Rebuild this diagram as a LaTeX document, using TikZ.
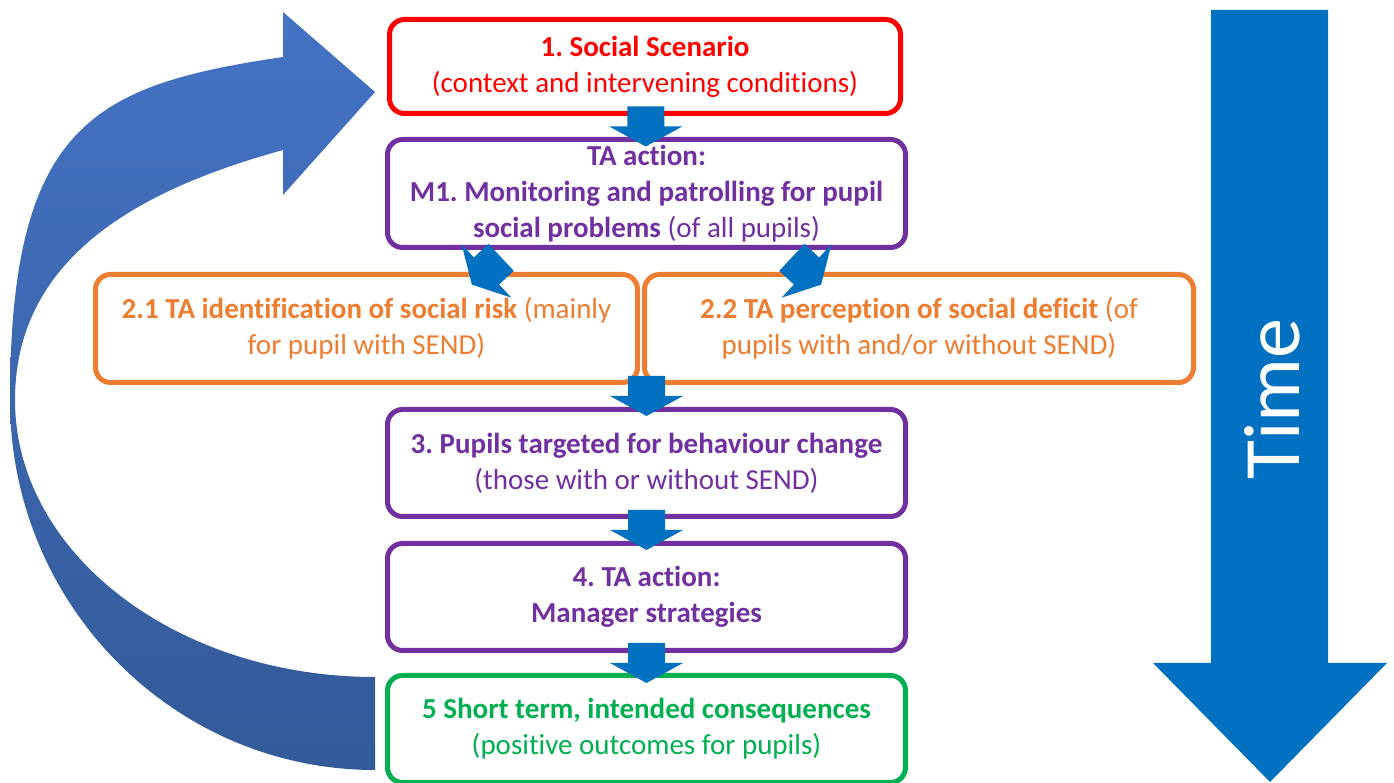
\documentclass[tikz,border=0pt]{standalone}
\usepackage{fontspec}
\setmainfont{Carlito}[Ligatures=NoCommon]
\usetikzlibrary{calc}

\definecolor{scenred}{HTML}{FF0000}
\definecolor{actpurple}{HTML}{7030A0}
\definecolor{riskorange}{HTML}{ED7D31}
\definecolor{outgreen}{HTML}{00B050}
\definecolor{flowblue}{HTML}{0070C0}
\definecolor{looptop}{HTML}{4472C4}
\definecolor{loopbot}{HTML}{335A98}

\tikzset{
  stagebox/.style={draw, rounded corners=15pt, line width=5pt, fill=white,
    align=center, inner sep=0pt, font=\fontsize{29}{36}\selectfont},
  blockarrow/.pic={
    \fill[flowblue] (-18.5,20) -- (18.5,20) -- (18.5,0) -- (36.5,0) -- (0,-20)
      -- (-36.5,0) -- (-18.5,0) -- cycle;
  }
}
\frenchspacing

\begin{document}
\begin{tikzpicture}[x=1pt, y=1pt]
    \useasboundingbox (0,0) rectangle (1394,783);

    % loop back arrow
    \path[top color=looptop, bottom color=loopbot] (375,13)
      .. controls (173,13) and (10,179) .. (10,383)
      .. controls (10,660) and (95,698) .. (283,726)
      -- (283,771) -- (375,691) -- (283,588) -- (283,633)
      .. controls (153,597) and (15,533) .. (15,383)
      .. controls (15,230) and (176,106) .. (375,106) -- cycle;

    % stages
    \node[stagebox, draw=scenred, text=scenred, minimum width=511pt, minimum height=94pt] (b1) at (645,716.5)
      {\textbf{1. Social Scenario}\\(context and intervening conditions)};
    \node[stagebox, draw=actpurple, text=actpurple, minimum width=518pt, minimum height=108pt] (m1) at (646.5,589.5)
      {\textbf{TA action:}\\\textbf{M1. Monitoring and patrolling for pupil}\\\textbf{social problems} (of all pupils)};
    \node[stagebox, draw=riskorange, text=riskorange, minimum width=542pt, minimum height=108pt] (r21) at (366.5,454.5)
      {\textbf{2.1 TA identification of social risk} (mainly\\for pupil with SEND)};
    \node[stagebox, draw=riskorange, text=riskorange, minimum width=549pt, minimum height=108pt] (r22) at (919,454.5)
      {\textbf{2.2 TA perception of social deficit} (of\\pupils with and/or without SEND)};
    \node[stagebox, draw=actpurple, text=actpurple, minimum width=518pt, minimum height=107pt] (p3) at (646.5,320)
      {\textbf{3. Pupils targeted for behaviour change}\\(those with or without SEND)};
    \node[stagebox, draw=actpurple, text=actpurple, minimum width=518pt, minimum height=107pt] (p4) at (646.5,186)
      {\textbf{4. TA action:}\\\textbf{Manager strategies}};
    \node[stagebox, draw=outgreen, text=outgreen, minimum width=518pt, minimum height=107pt] (c5) at (646.5,54)
      {\textbf{5 Short term, intended consequences}\\(positive outcomes for pupils)};

    % flow arrows
    \pic at ($(b1.south)!0.5!(m1.north)$) {blockarrow};
    \pic[rotate=-47] at ($(m1.south)+(-160,-21)$) {blockarrow};
    \pic[rotate=47] at ($(m1.south)+(160,-21)$) {blockarrow};
    \pic at ($(p3.north)!0.5!(p3.north |- r21.south)$) {blockarrow};
    \pic at ($(p3.south)!0.5!(p4.north)$) {blockarrow};
    \pic at ($(p4.south)!0.5!(c5.north)$) {blockarrow};

    % time arrow
    \fill[flowblue] (1211,773) -- (1328,773) -- (1328,120) -- (1387,120)
      -- (1270,1) -- (1153,120) -- (1211,120) -- cycle;
    \node[rotate=90, text=white, font=\fontsize{80}{96}\selectfont] (time) at (1272,384) {Time};
\end{tikzpicture}
\end{document}
